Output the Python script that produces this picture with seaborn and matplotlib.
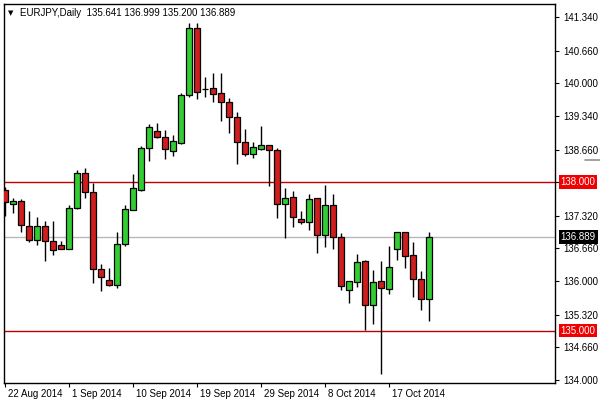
import numpy as np
import pandas as pd
import matplotlib
matplotlib.use("Agg")
import matplotlib.pyplot as plt
import matplotlib.transforms as mtransforms
from matplotlib.lines import Line2D
import seaborn as sns

# ---- data (EURJPY daily) ----
opens = [137.842, 137.553, 137.619, 137.114, 136.825, 137.114, 136.811, 136.730, 136.655, 137.484,
         138.180, 137.795, 136.244, 136.022, 135.927, 136.744, 137.437, 137.842, 138.684, 139.028,
         138.919, 138.636, 138.798, 139.763, 141.111, 139.890, 139.898, 139.797, 139.615, 139.312,
         138.819, 138.564, 138.678, 138.746, 138.645, 137.553, 137.694, 137.249, 137.201, 137.674,
         136.926, 137.539, 136.885, 135.814, 135.988, 136.406, 135.523, 136.002, 135.834, 136.655,
         136.993, 136.521, 136.042, 135.641]
highs = [137.902, 137.686, 137.666, 137.417, 137.296, 137.209, 137.209, 136.811, 137.539, 138.246,
         138.281, 137.990, 136.339, 136.257, 136.993, 137.539, 138.165, 138.731, 139.176, 139.190,
         139.049, 138.954, 139.797, 141.212, 141.212, 140.121, 140.202, 140.202, 139.696, 139.413,
         139.075, 138.807, 139.142, 138.746, 138.697, 137.876, 137.828, 137.417, 137.761, 137.674,
         137.943, 137.761, 136.966, 136.002, 136.540, 136.426, 136.224, 136.412, 136.709, 136.993,
         136.993, 136.786, 136.204, 136.999]
lows = [137.316, 137.383, 136.998, 136.796, 136.730, 136.412, 136.533, 136.650, 136.650, 137.452,
        137.674, 135.955, 135.806, 135.901, 135.866, 136.715, 137.437, 137.822, 138.434, 138.899,
        138.462, 138.522, 138.777, 139.728, 139.676, 139.728, 139.627, 139.237, 138.988, 138.373,
        138.522, 138.495, 138.658, 137.929, 137.282, 136.865, 137.087, 137.154, 137.033, 136.562,
        136.681, 136.641, 135.820, 135.551, 135.874, 135.011, 135.126, 134.121, 135.739, 136.426,
        136.271, 135.684, 135.415, 135.200]
closes = [137.599, 137.619, 137.128, 136.825, 137.114, 136.811, 136.629, 136.655, 137.472, 138.180,
          137.795, 136.238, 136.089, 135.927, 136.744, 137.452, 137.876, 138.691, 139.109, 138.919,
          138.664, 138.826, 139.763, 141.111, 139.817, 139.890, 139.777, 139.615, 139.312, 138.819,
          138.564, 138.706, 138.752, 138.645, 137.553, 137.674, 137.302, 137.201, 137.654, 136.926,
          137.539, 136.885, 135.907, 136.002, 136.380, 135.523, 135.976, 135.854, 136.291, 136.993,
          136.513, 136.036, 135.632, 136.889]

# trading days (broker with Sunday bars, no Saturday)
dates = [d for d in pd.date_range("2014-08-22", "2014-10-23") if d.weekday() != 5]
level_lines = [138.000, 135.000]
last_price = 136.889
ytick_values = [134.000, 134.660, 135.320, 136.000, 136.660, 137.320, 138.000,
                138.660, 139.340, 140.000, 140.660, 141.340]
header = "EURJPY,Daily  135.641 136.999 135.200 136.889"

df = pd.DataFrame({"date": dates, "open": opens, "high": highs, "low": lows, "close": closes})
df["idx"] = np.arange(len(df))

# ---- style ----
sns.set_style("white")
plt.rcParams["font.family"] = ["Liberation Sans", "DejaVu Sans"]

W, H = 600, 403
fig = plt.figure(figsize=(W / 100, H / 100), dpi=100)
fig.patch.set_facecolor("white")
L, R, T, B = 4, 555, 4, 383
ax = fig.add_axes([L / W, (H - B) / H, (R - L) / W, (B - T) / H])
ax.set_facecolor("white")

GREEN = "#32CD32"
RED = "#D01E1E"

up = df["close"] >= df["open"]
# wicks
ax.vlines(df["idx"], df["low"], df["high"], color="black", lw=1, zorder=3)
# bodies
bottoms = np.minimum(df["open"], df["close"])
heights = np.abs(df["close"] - df["open"])
colors = [GREEN if u else RED for u in up]
colors = ["black" if h == 0 else c for h, c in zip(heights, colors)]
ax.bar(df["idx"], heights, bottom=bottoms, width=0.72, color=colors,
       edgecolor="black", linewidth=0.9, zorder=4)

# horizontal levels
for lv in level_lines:
    ax.axhline(lv, color="#C00000", lw=1, zorder=1)
ax.axhline(last_price, color="#B8B8B8", lw=1, zorder=1)

# axes limits (pixel-mapped)
ppu = 363 / 7.34
ax.set_xlim((L - 5.3) / 8, (R - 5.3) / 8)
ax.set_ylim(134 - 3 / ppu, 134 + 376 / ppu)

# y axis on right (labels hidden where a price box sits)
ax.yaxis.tick_right()
ax.set_yticks(ytick_values)
ax.set_yticklabels(["" if any(abs(v - lv) < 1e-9 for lv in level_lines) else f"{v:.3f}"
                    for v in ytick_values])
ax.tick_params(axis="y", direction="out", length=3, width=0.8, pad=3,
               labelsize=7, colors="black", right=True, left=False)

# x axis ticks every 8 bars
xt = df["idx"][::8]
ax.set_xticks(xt)
ax.set_xticklabels([d.strftime("%-d %b %Y") for d in df["date"][::8]])
ax.tick_params(axis="x", direction="out", length=3, width=0.8, pad=1,
               labelsize=7, colors="black", bottom=True)
offset = mtransforms.ScaledTranslation(2 / 72, 0, fig.dpi_scale_trans)
for lab in ax.get_xticklabels():
    lab.set_horizontalalignment("left")
    lab.set_transform(lab.get_transform() + offset)

for sp in ax.spines.values():
    sp.set_color("black")
    sp.set_linewidth(1)
ax.set_xlabel("")
ax.set_ylabel("")

# price labels on the right scale
blend = mtransforms.blended_transform_factory(ax.transAxes, ax.transData)
lab_off = mtransforms.ScaledTranslation(4 / 72, 0, fig.dpi_scale_trans)
for lv in level_lines:
    ax.text(1.0, lv, f"{lv:.3f}", transform=blend + lab_off, ha="left", va="center",
            color="white", fontsize=7, clip_on=False, zorder=10,
            bbox=dict(boxstyle="square,pad=0.2", fc="#F00000", ec="none"))
ax.text(1.0, last_price, f"{last_price:.3f}", transform=blend + lab_off, ha="left", va="center",
        color="white", fontsize=7, clip_on=False, zorder=10,
        bbox=dict(boxstyle="square,pad=0.2", fc="black", ec="none"))

# header
fig.text(8 / W, 1 - 13 / H, "\u25BC", fontsize=5, color="black", va="center", ha="left",
         family=["DejaVu Sans"])
fig.text(20 / W, 1 - 13 / H, header, fontsize=7, color="black", va="center", ha="left")

# small gray marker on the price scale
fig.add_artist(Line2D([585 / W, 1.0], [1 - 160 / H] * 2, color="#909090", lw=1.2))

fig.savefig("out.png", dpi=100)
